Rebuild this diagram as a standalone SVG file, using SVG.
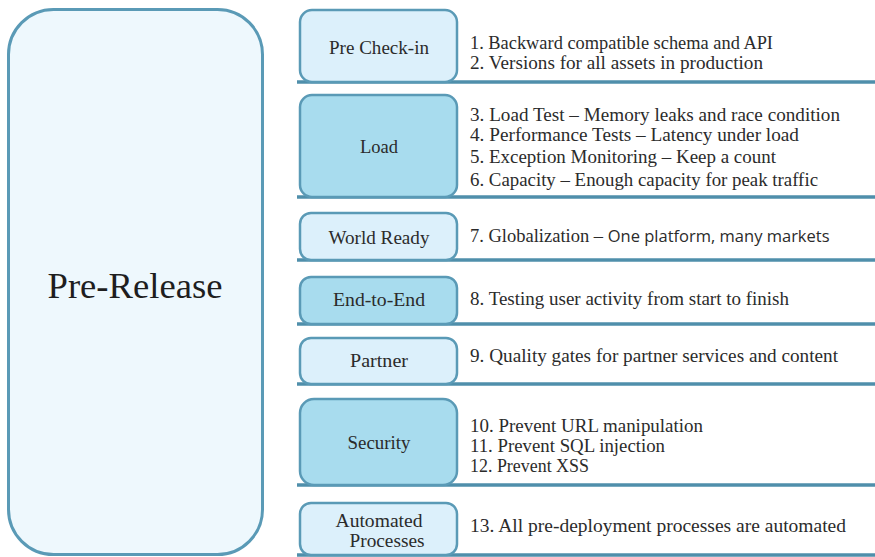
<svg xmlns="http://www.w3.org/2000/svg" width="875" height="557" viewBox="0 0 875 557">
<style>
.main{fill:#eef8fd;stroke:#5a9ab6;stroke-width:3}
.lt{fill:#dcf0fb;stroke:#5a9ab6;stroke-width:2.5}
.dk{fill:#a8dcee;stroke:#5a9ab6;stroke-width:2.5}
.sep{stroke:#4f8fab;stroke-width:3.5}
.lbl{font-family:"Liberation Serif","DejaVu Serif",serif;font-size:19px;fill:#2b2b2b;text-anchor:middle}
.itm{font-family:"Liberation Serif","DejaVu Serif",serif;font-size:18.5px;fill:#2b2b2b}
.big{font-family:"Liberation Serif","DejaVu Serif",serif;font-size:36px;fill:#1e1e1e;text-anchor:middle}
.sans{font-family:"Open Sans","Liberation Sans",sans-serif;font-size:16.5px}
</style>
<g id="pre-release">
<rect class="main" x="8.5" y="9.5" width="254" height="545" rx="45" ry="45"/>
<text class="big" x="135" y="298" textLength="175" lengthAdjust="spacingAndGlyphs">Pre-Release</text>
</g>
<g id="connectors">
<line class="sep" x1="297" y1="82" x2="875" y2="82"/>
<line class="sep" x1="297" y1="197" x2="875" y2="197"/>
<line class="sep" x1="297" y1="260" x2="875" y2="260"/>
<line class="sep" x1="297" y1="324" x2="875" y2="324"/>
<line class="sep" x1="297" y1="384" x2="875" y2="384"/>
<line class="sep" x1="297" y1="485" x2="875" y2="485"/>
<line class="sep" x1="297" y1="555" x2="875" y2="555"/>
</g>
<g id="pre-check-in">
<rect class="lt" x="300" y="10" width="157" height="72" rx="12"/>
<text class="lbl" x="379" y="54" textLength="100" lengthAdjust="spacingAndGlyphs">Pre Check-in</text>
<text class="itm" x="470" y="49" textLength="303" lengthAdjust="spacingAndGlyphs">1. Backward compatible schema and API</text>
<text class="itm" x="470" y="69" textLength="293" lengthAdjust="spacingAndGlyphs">2. Versions for all assets in production</text>
</g>
<g id="load">
<rect class="dk" x="300" y="95" width="157" height="102" rx="12"/>
<text class="lbl" x="379" y="153" textLength="38" lengthAdjust="spacingAndGlyphs">Load</text>
<text class="itm" x="470" y="121" textLength="370" lengthAdjust="spacingAndGlyphs">3. Load Test – Memory leaks and race condition</text>
<text class="itm" x="470" y="141" textLength="329" lengthAdjust="spacingAndGlyphs">4. Performance Tests – Latency under load</text>
<text class="itm" x="470" y="163" textLength="306" lengthAdjust="spacingAndGlyphs">5. Exception Monitoring – Keep a count</text>
<text class="itm" x="470" y="186" textLength="348" lengthAdjust="spacingAndGlyphs">6. Capacity – Enough capacity for peak traffic</text>
</g>
<g id="world-ready">
<rect class="lt" x="300" y="213" width="157" height="47" rx="11"/>
<text class="lbl" x="379" y="244" textLength="101" lengthAdjust="spacingAndGlyphs">World Ready</text>
<text class="itm" x="470" y="242">7. Globalization – <tspan class="sans">One platform, many markets</tspan></text>
</g>
<g id="end-to-end">
<rect class="dk" x="300" y="277" width="157" height="47" rx="11"/>
<text class="lbl" x="379" y="306" textLength="92" lengthAdjust="spacingAndGlyphs">End-to-End</text>
<text class="itm" x="470" y="305" textLength="319" lengthAdjust="spacingAndGlyphs">8. Testing user activity from start to finish</text>
</g>
<g id="partner">
<rect class="lt" x="300" y="338" width="157" height="46" rx="11"/>
<text class="lbl" x="379" y="367" textLength="58" lengthAdjust="spacingAndGlyphs">Partner</text>
<text class="itm" x="470" y="362" textLength="368" lengthAdjust="spacingAndGlyphs">9. Quality gates for partner services and content</text>
</g>
<g id="security">
<rect class="dk" x="300" y="399" width="157" height="86" rx="14"/>
<text class="lbl" x="379" y="449" textLength="63" lengthAdjust="spacingAndGlyphs">Security</text>
<text class="itm" x="470" y="432" textLength="233" lengthAdjust="spacingAndGlyphs">10. Prevent URL manipulation</text>
<text class="itm" x="470" y="452" textLength="195" lengthAdjust="spacingAndGlyphs">11. Prevent SQL injection</text>
<text class="itm" x="470" y="472" textLength="119" lengthAdjust="spacingAndGlyphs">12. Prevent XSS</text>
</g>
<g id="automated-processes">
<rect class="lt" x="300" y="503" width="157" height="52" rx="11"/>
<text class="lbl" x="379" y="527" textLength="87" lengthAdjust="spacingAndGlyphs">Automated</text>
<text class="lbl" x="387" y="547" textLength="75" lengthAdjust="spacingAndGlyphs">Processes</text>
<text class="itm" x="470" y="532" textLength="376" lengthAdjust="spacingAndGlyphs">13. All pre-deployment processes are automated</text>
</g>
</svg>
